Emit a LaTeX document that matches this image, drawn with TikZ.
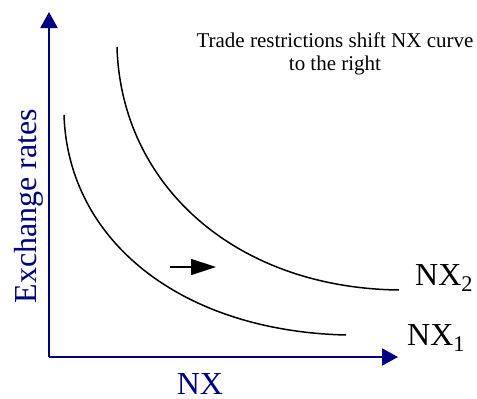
\documentclass[tikz,border=0pt]{standalone}
\usepackage{fontspec}
\setmainfont{Liberation Serif}
\usetikzlibrary{arrows.meta}
\definecolor{axisblue}{RGB}{0,0,128}
\tikzset{
  axisline/.style={draw=axisblue, line width=2pt, -{Triangle[length=16pt,width=17pt]}},
  curveline/.style={draw=black, line width=1.5pt},
  shiftarrow/.style={draw=black, line width=1.5pt, -{Triangle[length=25pt,width=16pt]}},
  biglabel/.style={font=\fontsize{32}{36}\selectfont, inner sep=0pt},
  titlelabel/.style={font=\fontsize{21}{23}\selectfont, inner sep=0pt, align=center}
}
\begin{document}
\begin{tikzpicture}[x=1pt,y=-1pt]
\useasboundingbox (0,0) rectangle (477,399);
\coordinate (O) at (49,357);
\coordinate (ytip) at (49,12);
\coordinate (xtip) at (398,357);
\draw[axisline] (O) -- (ytip);
\draw[axisline] (O) -- (xtip);
\coordinate (a1) at (64,115);
\coordinate (b1) at (346,335);
\draw[curveline] (a1) .. controls (68,240) and (180,331) .. (b1);
\coordinate (a2) at (117,47);
\coordinate (b2) at (399,290);
\draw[curveline] (a2) .. controls (121,185) and (235,288) .. (b2);
\coordinate (s0) at (170,267);
\coordinate (s1) at (216,267);
\draw[shiftarrow] (s0) -- (s1);
\node[biglabel, anchor=base west] (nx2) at (415,285) {NX\textsubscript{2}};
\node[biglabel, anchor=base west] (nx1) at (407,345) {NX\textsubscript{1}};
\node[biglabel, text=axisblue, anchor=base] (nx) at (200,394) {NX};
\node[biglabel, text=axisblue, anchor=base, rotate=90] (er) at (36,206) {Exchange rates};
\node[titlelabel, anchor=base] (title) at (335,70) {Trade restrictions shift NX curve\\to the right};
\end{tikzpicture}
\end{document}
